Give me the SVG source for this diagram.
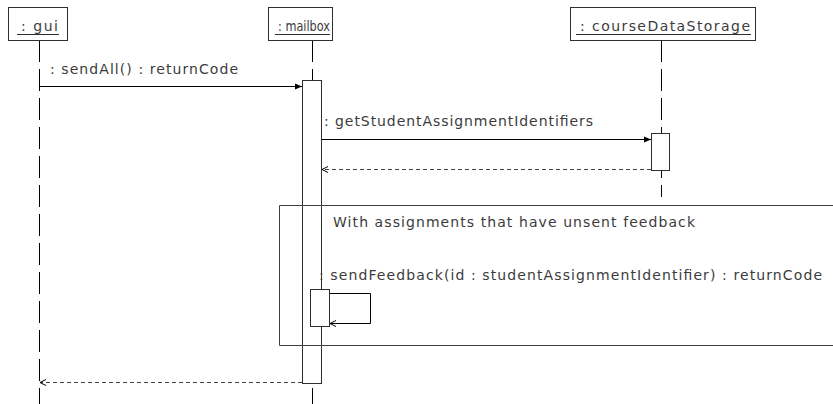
<svg xmlns="http://www.w3.org/2000/svg" width="833" height="404" viewBox="0 0 833 404">
<defs>
<style>
text{font-family:"DejaVu Sans","Liberation Sans",sans-serif;font-size:14px;fill:#3c3c3c}
.box{fill:#fff;stroke:#303030;stroke-width:1}
.ul{stroke:#303030;stroke-width:1}
.life{stroke:#000;stroke-width:1;stroke-dasharray:22 7;fill:none}
.act{fill:#fff;stroke:#303030;stroke-width:1}
.msg{stroke:#000;stroke-width:1;fill:none}
.ret{stroke:#404040;stroke-width:1;stroke-dasharray:4 3;fill:none}
.frame{fill:none;stroke:#404040;stroke-width:1}
</style>
<marker id="fill" markerWidth="8" markerHeight="8" refX="7" refY="4" orient="auto" markerUnits="userSpaceOnUse">
<path d="M0,1 L7,4 L0,7 Z" fill="#000"/>
</marker>
<marker id="open" markerWidth="8" markerHeight="8" refX="7" refY="4" orient="auto" markerUnits="userSpaceOnUse">
<path d="M1,1 L7,4 L1,7" fill="none" stroke="#000" stroke-width="1"/>
</marker>
</defs>
<g id="lifelines">
<line class="life" x1="39.5" y1="40" x2="39.5" y2="404"/>
<line class="life" x1="312.5" y1="40" x2="312.5" y2="404"/>
<line class="life" x1="661.5" y1="40" x2="661.5" y2="197"/>
</g>
<g id="gui">
<rect class="box" x="8.5" y="7.5" width="59" height="33"/>
<text x="21" y="31" textLength="37" lengthAdjust="spacing">: gui</text>
<line class="ul" x1="17" y1="34.5" x2="59" y2="34.5"/>
</g>
<g id="mailbox">
<rect class="box" x="268.5" y="7.5" width="64" height="33"/>
<text x="278" y="31" style="font-size:13.5px" textLength="52" lengthAdjust="spacingAndGlyphs">: mailbox</text>
<line class="ul" x1="275" y1="34.5" x2="330" y2="34.5"/>
<rect class="act" x="302.5" y="80.5" width="19" height="303"/>
</g>
<g id="courseDataStorage">
<rect class="box" x="570.5" y="7.5" width="185" height="33"/>
<text x="580" y="31" textLength="170" lengthAdjust="spacing">: courseDataStorage</text>
<line class="ul" x1="576" y1="34.5" x2="751" y2="34.5"/>
<rect class="act" x="651.5" y="133.5" width="18" height="37"/>
</g>
<g id="loop-frame">
<path class="frame" d="M833,205.5 H279.5 V345.5 H833"/>
<text x="333" y="227" textLength="362" lengthAdjust="spacing">With assignments that have unsent feedback</text>
</g>
<g id="self-activation">
<rect class="act" x="310.5" y="289.5" width="19" height="37"/>
</g>
<g id="connectors">
<line class="msg" x1="40" y1="86.5" x2="302" y2="86.5" marker-end="url(#fill)"/>
<text x="50" y="74" textLength="188" lengthAdjust="spacing">: sendAll() : returnCode</text>
<line class="msg" x1="322" y1="139.5" x2="651" y2="139.5" marker-end="url(#fill)"/>
<text x="324" y="126" textLength="269" lengthAdjust="spacing">: getStudentAssignmentIdentifiers</text>
<line class="ret" x1="651" y1="169.5" x2="322" y2="169.5" marker-end="url(#open)"/>
<path class="msg" d="M330,293.5 H370.5 V323.5 H330" marker-end="url(#open)"/>
<text x="319" y="280" textLength="503" lengthAdjust="spacing">: sendFeedback(id : studentAssignmentIdentifier) : returnCode</text>
<line class="ret" x1="302" y1="382.5" x2="40" y2="382.5" marker-end="url(#open)"/>
</g>
</svg>
